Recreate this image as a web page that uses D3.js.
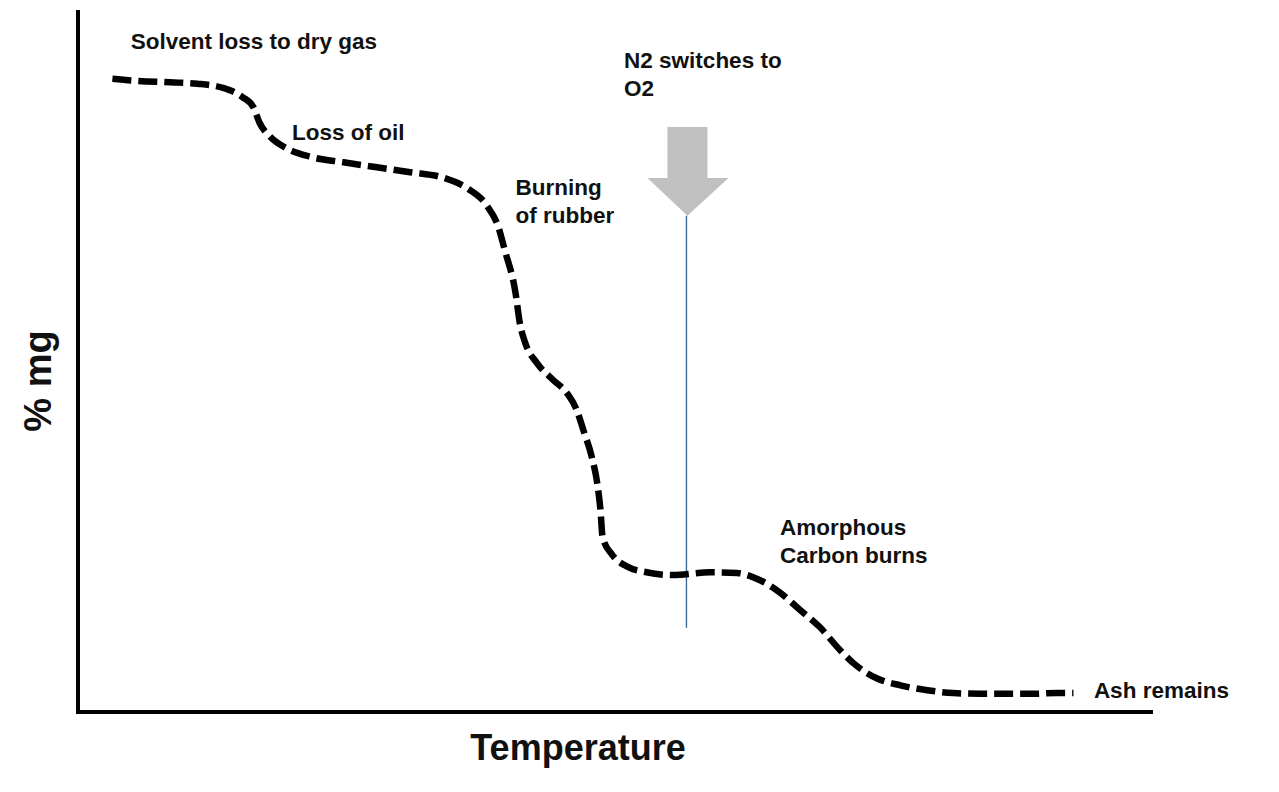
<!DOCTYPE html>
<html><head><meta charset="utf-8">
<script src="https://cdn.jsdelivr.net/npm/d3@7"></script>
<style>body{margin:0;background:#fff}svg{display:block}</style>
</head><body>
<script>
// Temperature (arbitrary units, 0-100) and % mass (0-100)
const temperature = [3.2,5.5,8.6,11.1,13.5,15.3,16.3,16.9,17.9,19.4,21.6,24.7,27.8,30.9,34.0,36.2,38.0,39.1,39.7,40.7,41.1,41.6,42.7,44.2,45.5,46.4,47.0,47.8,48.3,48.6,48.8,49.7,51.1,52.9,55.3,58.8,61.3,63.4,65.3,67.2,69.0,70.9,72.1,74.3,76.5,79.0,81.4,83.9,86.4,88.8,91.1,92.6];
const massPct = [90.2,89.9,89.7,89.5,88.9,87.6,86.2,83.9,81.9,80.3,79.1,78.3,77.6,76.9,76.1,74.6,72.2,69.1,65.8,59.7,55.4,52.6,49.7,47.3,45.4,43.0,40.2,36.3,32.6,28.8,24.9,22.4,20.7,19.9,19.5,19.9,19.8,18.8,17.0,14.5,12.1,8.8,7.0,4.8,3.8,3.1,2.7,2.6,2.6,2.6,2.7,2.7];
// annotation labels: [text lines, temperature, mass]
const labelText = [
  ["Solvent loss to dry gas"],
  ["Loss of oil"],
  ["Burning","of rubber"],
  ["N2 switches to","O2"],
  ["Amorphous","Carbon burns"],
  ["Ash remains"]
];
const labelT = [4.9, 19.9, 40.7, 50.8, 65.3, 94.5];
const labelM = [94.4, 81.5, 73.7, 91.8, 25.2, 2.0];
const switchT = 56.6;           // temperature where N2 -> O2
const switchTop = 70.7, switchBottom = 12.0;
const xLabel = "Temperature", yLabel = "% mg";

const W = 1279, H = 792;
const svg = d3.select("body").append("svg").attr("width", W).attr("height", H);
const x = d3.scaleLinear().domain([0,100]).range([78,1153]);
const y = d3.scaleLinear().domain([0,100]).range([712,10]);

// axes
svg.append("line").attr("x1",x(0)).attr("x2",x(0)).attr("y1",y(100)).attr("y2",y(0)+2)
  .attr("stroke","#000").attr("stroke-width",4);
svg.append("line").attr("x1",x(0)-2).attr("x2",x(100)).attr("y1",y(0)).attr("y2",y(0))
  .attr("stroke","#000").attr("stroke-width",4);

// N2->O2 marker line
svg.append("line").attr("x1",x(switchT)).attr("x2",x(switchT))
  .attr("y1",y(switchTop)).attr("y2",y(switchBottom))
  .attr("stroke","#3d6a96").attr("stroke-width",1.4);

// arrow
const ax = x(switchT)+1, tipY = y(switchTop);
svg.append("path")
  .attr("d", `M${ax-20},127 L${ax+20},127 L${ax+20},178 L${ax+41},178 L${ax},${tipY} L${ax-40},178 L${ax-20},178 Z`)
  .attr("fill","#c0c0c0");

// curve
const pts = temperature.map((t,i)=>[t, massPct[i]]);
const line = d3.line().x(d=>x(d[0])).y(d=>y(d[1])).curve(d3.curveMonotoneX);
svg.append("path").attr("d", line(pts)).attr("fill","none")
  .attr("stroke","#000").attr("stroke-width",6.5).attr("stroke-dasharray","19,7");

// labels
const font = "'Liberation Sans', Arial, sans-serif";
labelText.forEach((lines,i)=>{
  const t = svg.append("text").attr("x", x(labelT[i])).attr("y", y(labelM[i]))
    .attr("font-family", font).attr("font-weight","bold").attr("font-size",22.5).attr("fill","#111");
  lines.forEach((s,j)=>{
    t.append("tspan").attr("x", x(labelT[i])).attr("dy", j===0?0:28).text(s);
  });
});

svg.append("text").attr("x",578).attr("y",760).attr("text-anchor","middle")
  .attr("font-family",font).attr("font-weight","bold").attr("font-size",36).attr("fill","#111").text(xLabel);
svg.append("text").attr("transform","translate(51,381) rotate(-90)").attr("text-anchor","middle")
  .attr("font-family",font).attr("font-weight","bold").attr("font-size",38).attr("fill","#111").text(yLabel);
</script>
</body></html>
